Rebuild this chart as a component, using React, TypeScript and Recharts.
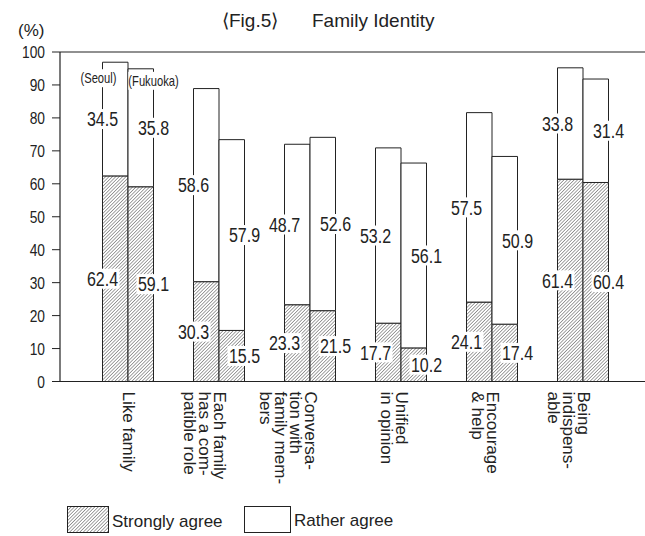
import { BarChart, Bar, XAxis, YAxis, ReferenceLine, LabelList, Legend } from "recharts";

const categories = [
  "Like family",
  "Each family has a compatible role",
  "Conversation with family members",
  "Unified in opinion",
  "Encourage & help",
  "Being indispensable",
];
const categoryLines = [
  ["Like family"],
  ["Each family", "has a com-", "patible role"],
  ["Conversa-", "tion with", "family mem-", "bers"],
  ["Unified", "in opinion"],
  ["Encourage", "& help"],
  ["Being", "indispens-", "able"],
];
const seoulStrong = [62.4, 30.3, 23.3, 17.7, 24.1, 61.4];
const seoulRather = [34.5, 58.6, 48.7, 53.2, 57.5, 33.8];
const fukuokaStrong = [59.1, 15.5, 21.5, 10.2, 17.4, 60.4];
const fukuokaRather = [35.8, 57.9, 52.6, 56.1, 50.9, 31.4];
const yTicks = [0, 10, 20, 30, 40, 50, 60, 70, 80, 90, 100];

const data = categories.map((c, i) => ({
  category: c,
  seoulStrong: seoulStrong[i],
  seoulRather: seoulRather[i],
  fukuokaStrong: fukuokaStrong[i],
  fukuokaRather: fukuokaRather[i],
}));

const INK = "#222";
const SANS = "'Liberation Sans', Arial, sans-serif";

// numbers sit on the outer edge of each bar, with a white box under them
function valueLabel(side: "left" | "right", tag?: string, tagDx = 0, tagDy = 14) {
  return (props: any) => {
    const x = Number(props.x);
    const y = Number(props.y);
    const w = Number(props.width);
    const h = Number(props.height);
    const cx = side === "left" ? x : x + w;
    const cy = y + h / 2;
    const txt = Number(props.value).toFixed(1);
    const tagW = tag ? tag.length * 5.6 : 0;
    return (
      <g>
        <rect x={cx - 17} y={cy - 10} width={34} height={20} fill="#fff" />
        <text
          transform={`translate(${cx},${cy}) scale(0.8,1)`}
          textAnchor="middle"
          dy="0.36em"
          fontSize={20}
          fontFamily={SANS}
          fill={INK}
        >
          {txt}
        </text>
        {tag && props.index === 0 && (
          <g>
            <rect x={cx + tagDx - tagW / 2} y={y + tagDy - 9} width={tagW} height={18} fill="#fff" />
            <text
              transform={`translate(${cx + tagDx},${y + tagDy}) scale(0.8,1)`}
              textAnchor="middle"
              dy="0.36em"
              fontSize={14}
              fontFamily={SANS}
              fill={INK}
            >
              {tag}
            </text>
          </g>
        )}
      </g>
    );
  };
}

const XTick = (props: any) => {
  const { x, y, index } = props;
  const lines = categoryLines[index] || [];
  return (
    <g transform={`translate(${x},${y})`}>
      <text transform="rotate(90)" fontSize={17} fontFamily={SANS} fill={INK}>
        {lines.map((l, i) => (
          <tspan key={i} x={2} y={5 + i * 15}>
            {l}
          </tspan>
        ))}
      </text>
    </g>
  );
};

const YTick = (props: any) => {
  const { x, y, payload } = props;
  return (
    <text
      transform={`translate(${x},${y}) scale(0.81,1)`}
      textAnchor="end"
      dy="0.36em"
      fontSize={17}
      fontFamily={SANS}
      fill={INK}
    >
      {payload.value}
    </text>
  );
};

const Hatch = ({ id }: { id: string }) => (
  <pattern id={id} patternUnits="userSpaceOnUse" width={2.4} height={2.4} patternTransform="rotate(45)">
    <rect width={2.4} height={2.4} fill="#fff" />
    <line x1={0} y1={0} x2={0} y2={2.4} stroke="#333" strokeWidth={0.9} />
  </pattern>
);

const LegendBox = () => (
  <svg width={645} height={40}>
    <defs>
      <Hatch id="hatchLegend" />
    </defs>
    <rect x={67.5} y={10.5} width={41} height={26} fill="url(#hatchLegend)" stroke={INK} />
    <text x={112} y={31} fontSize={17} fontFamily={SANS} fill={INK}>
      Strongly agree
    </text>
    <rect x={244.5} y={10.5} width={46} height={26} fill="#fff" stroke={INK} />
    <text x={294} y={30} fontSize={17} fontFamily={SANS} fill={INK}>
      Rather agree
    </text>
  </svg>
);

export default function App() {
  return (
    <div style={{ position: "absolute", left: 0, top: 0, width: 645, height: 536, background: "#fff" }}>
      <BarChart
        width={645}
        height={536}
        data={data}
        margin={{ top: 52, right: 0, left: 0, bottom: 14.5 }}
        barGap={0}
        barSize={25.5}
      >
        <defs>
          <Hatch id="hatch" />
        </defs>
        <XAxis
          dataKey="category"
          interval={0}
          height={140}
          padding={{ left: 22.5, right: 16.5 }}
          axisLine={{ stroke: INK, strokeWidth: 1.2 }}
          tickLine={false}
          tick={<XTick />}
        />
        <YAxis
          width={60}
          domain={[0, 100]}
          ticks={yTicks}
          interval={0}
          tickSize={8}
          tickMargin={7}
          axisLine={{ stroke: INK, strokeWidth: 1.2 }}
          tickLine={{ stroke: INK }}
          tick={<YTick />}
        />
        <ReferenceLine y={100} stroke={INK} strokeWidth={1.2} />
        <Legend
          layout="horizontal"
          verticalAlign="middle"
          align="center"
          wrapperStyle={{ position: "absolute", top: 496, left: 0, width: 645, height: 40 }}
          content={() => <LegendBox />}
        />
        <Bar dataKey="seoulStrong" stackId="seoul" name="Strongly agree" fill="url(#hatch)" stroke={INK} strokeWidth={1} isAnimationActive={false}>
          <LabelList dataKey="seoulStrong" content={valueLabel("left")} />
        </Bar>
        <Bar dataKey="seoulRather" stackId="seoul" name="Rather agree" fill="#fff" stroke={INK} strokeWidth={1} isAnimationActive={false}>
          <LabelList dataKey="seoulRather" content={valueLabel("left", "(Seoul)", -4, 16)} />
        </Bar>
        <Bar dataKey="fukuokaStrong" stackId="fukuoka" name="Strongly agree" fill="url(#hatch)" stroke={INK} strokeWidth={1} isAnimationActive={false}>
          <LabelList dataKey="fukuokaStrong" content={valueLabel("right")} />
        </Bar>
        <Bar dataKey="fukuokaRather" stackId="fukuoka" name="Rather agree" fill="#fff" stroke={INK} strokeWidth={1} isAnimationActive={false}>
          <LabelList dataKey="fukuokaRather" content={valueLabel("right", "(Fukuoka)", 0, 12)} />
        </Bar>
      </BarChart>
      <svg width={645} height={60} style={{ position: "absolute", left: 0, top: 0, pointerEvents: "none" }}>
        <text x={222} y={27} fontSize={19} fontFamily={SANS} fill={INK}>
          ⟨Fig.5⟩
        </text>
        <text x={312} y={27} fontSize={19} fontFamily={SANS} fill={INK}>
          Family Identity
        </text>
        <text x={18} y={36} fontSize={17} fontFamily={SANS} fill={INK}>
          (%)
        </text>
      </svg>
    </div>
  );
}
